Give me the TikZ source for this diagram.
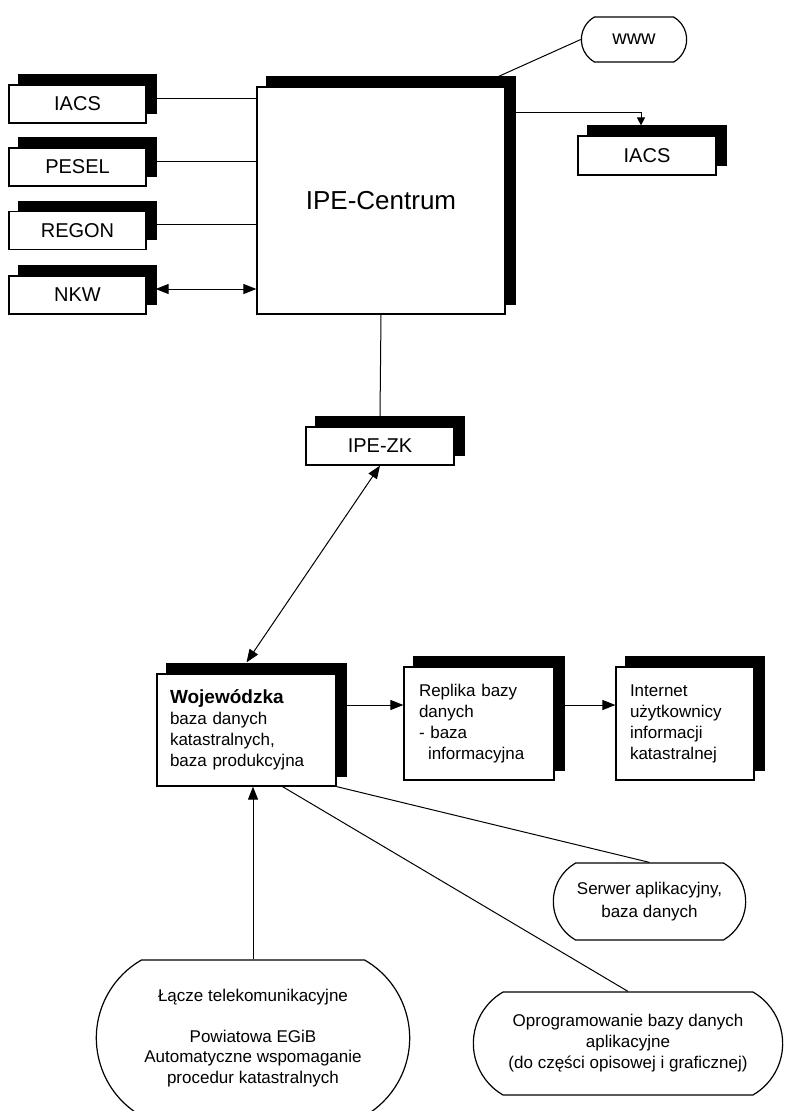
\documentclass[tikz,border=0pt]{standalone}
\usepackage{fontspec}
\setmainfont{Liberation Sans}
\usetikzlibrary{shadows,shapes.misc,arrows.meta}

\begin{document}
\begin{tikzpicture}[x=1pt,y=-1pt,line width=1pt,
    >={Triangle[length=13pt,width=10pt]},
    shbox/.style={draw,fill=white,line width=1.2pt,
      general shadow={fill=black,draw=black,shadow xshift=10pt,shadow yshift=10pt}},
    srcbox/.style={shbox,minimum width=137pt,minimum height=38pt,font=\fontsize{20}{24}\selectfont},
    txtbox/.style={shbox,align=left,minimum height=113pt,font=\fontsize{17}{21}\selectfont},
    pill/.style={draw,line width=1.2pt,rounded rectangle,rounded rectangle arc length=120,
      align=center,font=\fontsize{17}{21}\selectfont}]
  \useasboundingbox (0,0) rectangle (787,1111);
  \clip (0,0) rectangle (787,1111);
  % --- central node and its neighbours ---
  \node[shbox,minimum width=248pt,minimum height=227pt,font=\fontsize{26}{30}\selectfont] (centrum) at (381,200.5) {IPE-Centrum};
  \foreach \name/\lab/\y in {iacsL/IACS/104,pesel/PESEL/167,regon/REGON/230.5,nkw/NKW/295}
    \node[srcbox] (\name) at (77.5,\y) {\lab};
  \node[pill,minimum width=112pt,minimum height=45pt,font=\fontsize{20}{24}\selectfont] (www) at (634,39.5) {www};
  \node[srcbox,minimum width=138pt,minimum height=39pt] (iacsR) at (647,155.5) {IACS};
  \node[srcbox,minimum width=148pt] (ipezk) at (380,446) {IPE-ZK};
  % --- voivodeship level ---
  \node[txtbox,minimum height=112pt,text width=153pt,inner xsep=13pt] (woj) at (246.5,730)
    {{\fontsize{19}{21}\selectfont\bfseries Wojewódzka}\\baza danych\\katastralnych,\\baza produkcyjna};
  \node[txtbox,text width=120pt,inner xsep=15pt] (replika) at (479,723.5)
    {Replika bazy\\danych\\- baza\\\hspace*{9pt}informacyjna};
  \node[txtbox,text width=110pt,inner xsep=14pt] (internet) at (685,723.5)
    {Internet\\użytkownicy\\informacji\\katastralnej};
  % --- software and links ---
  \node[pill,minimum width=199pt,minimum height=77pt,font=\fontsize{17}{23}\selectfont] (serwer) at (649.5,901.5)
    {Serwer aplikacyjny,\\baza danych};
  \node[pill,minimum width=316pt,minimum height=103pt] (oprog) at (628,1043.5)
    {Oprogramowanie bazy danych\\aplikacyjne\\(do części opisowej i graficznej)};
  \node[pill,minimum width=320pt,minimum height=156pt,font=\fontsize{17}{20.5}\selectfont] (lacze) at (253,1038)
    {Łącze telekomunikacyjne\\[20.5pt]Powiatowa EGiB\\Automatyczne wspomaganie\\procedur katastralnych};
  % --- connectors ---
  \foreach \name in {iacsL,pesel,regon}
    \draw ([yshift=6pt]\name.east) coordinate (s) -- (s -| centrum.west);
  \draw[<->] ([xshift=9pt,yshift=6pt]nkw.east) coordinate (s) -- (s -| centrum.west);
  \draw (www.west) -- ([xshift=-7pt,yshift=10pt]centrum.north east);
  \draw[-{Triangle[length=8pt,width=8pt]}] ([yshift=-26pt]centrum.north east) -| ([xshift=-6pt,yshift=10pt]iacsR.north);
  \draw (centrum.south) -- ([yshift=10pt]ipezk.north);
  \draw[<->] (ipezk.south) -- ([yshift=11pt]woj.north);
  \draw[->] ([yshift=25pt]woj.east) coordinate (s) -- (s -| replika.west);
  \draw[->] ([yshift=18.5pt]replika.east) coordinate (s) -- (s -| internet.west);
  \draw[->] (lacze.north) -- (lacze.north |- woj.south);
  \draw ([xshift=36pt]woj.south) -- (oprog.north);
  \draw (woj.south east) -- (serwer.north);
\end{tikzpicture}
\end{document}
